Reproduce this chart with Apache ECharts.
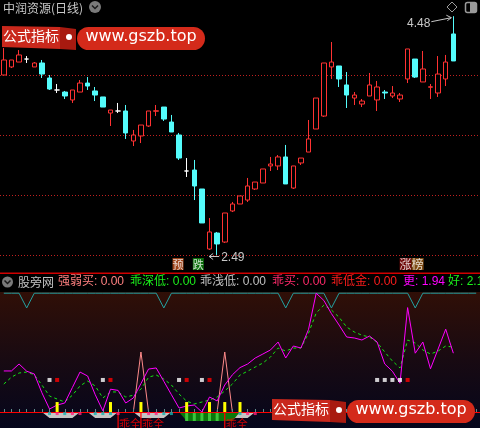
<!DOCTYPE html>
<html><head><meta charset="utf-8">
<script src="https://cdn.jsdelivr.net/npm/echarts@6/dist/echarts.min.js"></script>
<style>html,body{margin:0;padding:0;background:#000;}#c{width:480px;height:428px;}</style>
</head><body><div id="c"></div>
<script>
// ---------- data ----------
const days = Array.from({length: 63}, (_, i) => 'D' + (i + 1));
const opens  = [3.99,4.057,4.098,4.123,4.057,4.09,3.965,3.865,3.848,3.782,3.848,3.923,3.857,3.807,3.673,3.69,3.69,3.44,3.482,3.565,3.688,3.723,3.598,3.49,3.19,3.198,3.04,2.54,2.673,2.598,2.857,2.915,2.948,3.04,3.09,3.232,3.232,3.307,3.048,3.257,3.348,3.54,3.648,4.057,4.065,3.907,3.798,3.748,3.815,3.782,3.848,3.815,3.79,3.957,4.123,3.932,3.888,3.84,3.957,4.332];
const closes = [4.115,4.115,4.157,4.123,4.09,3.998,3.873,3.865,3.815,3.865,3.923,3.898,3.823,3.723,3.698,3.69,3.507,3.49,3.573,3.69,3.692,3.623,3.515,3.298,3.19,3.065,2.757,2.682,2.582,2.84,2.915,2.982,3.065,3.098,3.207,3.248,3.307,3.082,3.232,3.298,3.457,3.798,4.09,4.098,3.957,3.823,3.823,3.773,3.907,3.89,3.84,3.84,3.823,4.207,3.973,4.04,3.892,3.998,4.098,4.107];
const lows   = [3.99,4.048,4.098,4.09,4.057,3.965,3.865,3.84,3.79,3.757,3.848,3.865,3.773,3.723,3.565,3.673,3.457,3.398,3.423,3.557,3.648,3.607,3.515,3.282,3.14,2.948,2.757,2.532,2.49,2.59,2.848,2.915,2.932,3.032,3.09,3.19,3.198,3.082,3.04,3.24,3.348,3.54,3.64,3.957,3.89,3.715,3.74,3.723,3.815,3.69,3.79,3.798,3.765,3.923,3.965,3.932,3.79,3.807,3.898,4.107];
const highs  = [4.215,4.115,4.198,4.148,4.098,4.115,3.99,3.915,3.857,3.865,3.948,3.973,3.89,3.807,3.698,3.757,3.74,3.532,3.573,3.69,3.74,3.723,3.657,3.507,3.298,3.282,3.04,2.798,2.682,2.84,2.932,2.982,3.132,3.098,3.207,3.307,3.323,3.407,3.232,3.298,3.615,3.798,4.09,4.265,4.065,4.015,3.848,3.79,4.007,3.94,3.865,3.898,3.84,4.207,4.123,4.19,3.915,4.148,4.157,4.48];
const priceGrid = [2.49, 2.99, 3.49, 3.99];
const tagIdx = [23, 25, 53];
const tagText = ['预', '跌', '涨榜'];
const tagPrice = 2.415;

// lower indicator
const magenta = [34.2,34.2,40,34,31.7,16,2.5,5.8,7.5,20.4,33.3,30,14.4,1,19,18,7.5,11.7,23.7,35.8,36.7,25.6,14.4,3.3,5,5.8,0,12.5,9.2,22.5,31,37,40,45,48.3,51.7,58.3,45,55,53.3,69,99,93,82,72.5,62.5,61.7,60,63.3,58.3,40,34,24,87,49,58.3,36,52.5,69,49];
const dashed  = [23.3,29,32.5,33.3,31,22.5,13.3,10.8,8.3,14,21.7,25.8,21.7,11.7,16.7,16.7,12.5,14,19,29,30.8,27.5,22.5,15,9,6.7,8.3,10,12.5,17.5,23.3,30.8,34,37.5,40.8,45.8,53.3,50.8,53.3,53.3,65.8,82.5,89,85,79,70.8,66.7,64,62.5,58,50,42.5,36.7,60,57.5,51.7,48.3,50.8,55,54];
const tealTop = [99,99,99,86.7,99,99,99,99,99,99, 99,99,99,99,99,99,99,99,99,99, 99,86.7,99,99,99,99,99,99,99,99, 99,99,99,99,99,99,99,86.7,99,99, 99,99,99,86.7,99,99,99,99,99,99, 99,99,99,99,86.7,99,99,99,99,99, 99,99,99];
const spike = [null,null,null,null,null,null,null,null,null,null, null,null,null,null,null,null,null,0,50,0, null,null,null,null,null,null,null,null,0,50, 0,null,null,null,null,null,null,null,null,null, null,null,null,null,null,null,null,null,null,null, null,null,null,null,null,null,null,null,null,null];
const greyArea = [null,null,null,null,null,0,-5,-5,-5,-5, 0,0,-5,-5,-5,0,0,0,-5,-5, -5,-5,0,0,0,0,0,0,0,0, -5,-5,-5,0,null,null,null,null,null,null, null,null,null,null,null,null,null,null,null,null, null,null,null,null,null,null,null,null,null,null];
const greenArea = [null,null,null,null,null,null,null,null,null,null, null,null,null,null,null,null,null,null,null,null, null,null,null,0,-7.5,-7.5,-7.5,-7.5,-7.5,-7.5, -7.5,0,null,null,null,null,null,null,null,null, null,null,null,null,null,null,null,null,null,null, null,null,null,null,null,null,null,null,null,null];
const yellowIdx = [7, 14, 18, 24, 27, 29, 31];
const yellowVal = [8.3, 8.3, 8.3, 8.3, 8.3, 8.3, 8.3];
const lgIdx = [24, 25, 26, 27, 28];
const lgVal = [-7.5, -7.5, -7.5, -7.5, -7.5];
const guaiIdx = [15, 18, 29];
const guaiVal = [-13.3, -13.3, -13.3];
const guaiText = '乖全';
const whiteIdx = [6, 13, 23, 26, 49, 50, 51, 52];
const redIdx = [7, 14, 24, 27, 53];
const dotLevel = 26.7;
const tealSqIdx = [6, 8, 12, 13, 14, 21, 22, 31];
const pinkSqIdx = [7, 9, 10, 15, 19, 20, 32, 33];
const sqLevel = -1.3;
const headNames = ['强弱买', '乖深低', '乖浅低', '乖买', '乖低金', '更', '好'];
const headVals  = ['0.00', '0.00', '0.00', '0.00', '0.00', '1.94', '2.16'];

// ---------- build ----------
const CJK = "'Noto Sans CJK SC','Liberation Sans',sans-serif";
const LAT = "'Liberation Sans','Noto Sans CJK SC',sans-serif";
const candles = opens.map((o, i) => {
  const v = [o, closes[i], lows[i], highs[i]];
  if (o === closes[i]) return {value: v, itemStyle: {color: '#fff', color0: '#fff', borderColor: '#fff', borderColor0: '#fff', borderColorDoji: '#fff'}};
  return v;
});
const tagStyle = {
  '预': {off: -1, rich: {a: {backgroundColor: '#c4521e', color: '#fff', fontSize: 11, lineHeight: 11, padding: [1, 0, 0, 0], fontFamily: CJK}}},
  '跌': {off: 4, rich: {a: {backgroundColor: '#0e8a0e', color: '#fff', fontSize: 11, lineHeight: 11, padding: [1, 0, 0, 0], fontFamily: CJK}}},
  '涨榜': {off: 4, rich: {a: {backgroundColor: '#8c0c0c', color: '#fff', fontSize: 12, lineHeight: 13, padding: [0, 0, 0, 0], fontFamily: CJK}, b: {backgroundColor: '#9c5c16', color: '#fff', fontSize: 12, lineHeight: 13, padding: [0, 0, 0, 0], fontFamily: CJK}}}
};
const tagData = tagIdx.map((x, i) => {
  const t = tagText[i], st = tagStyle[t];
  const fmt = t.length === 2 ? '{a|' + t[0] + '}{b|' + t[1] + '}' : '{a|' + t + '}';
  return {value: [x, tagPrice], label: {show: true, position: 'inside', offset: [st.off, 0], formatter: fmt, rich: st.rich}};
});
function pairs(idx, vals) { return idx.map((x, i) => [x, Array.isArray(vals) ? vals[i] : vals]); }
function barRender(w, color) {
  return function (params, api) {
    const x = api.value(0), v = api.value(1);
    const p0 = api.coord([x, 0]), p1 = api.coord([x, v]);
    return {type: 'rect', shape: {x: p0[0] - w / 2, y: Math.min(p0[1], p1[1]), width: w, height: Math.abs(p1[1] - p0[1])}, style: {fill: color}};
  };
}
const L = {xAxisIndex: 1, yAxisIndex: 1};

const chart = echarts.init(document.getElementById('c'));
const option = {
  backgroundColor: '#000',
  animation: false,
  grid: [
    {left: 0, top: 15, width: 480, height: 260},
    {left: 0, top: 292, width: 480, height: 136, show: true, borderWidth: 0,
      backgroundColor: {type: 'linear', x: 0, y: 0, x2: 0, y2: 1, colorStops: [{offset: 0, color: '#300f07'}, {offset: 0.5, color: '#180a12'}, {offset: 1, color: '#05061c'}]}}
  ],
  xAxis: [
    {type: 'category', gridIndex: 0, data: days, boundaryGap: true, show: false},
    {type: 'category', gridIndex: 1, data: days, boundaryGap: true, z: 5,
      axisLine: {show: true, onZero: true, lineStyle: {color: '#ff0000', width: 1}},
      axisTick: {show: true, alignWithLabel: true, interval: 0, inside: true, length: 3, lineStyle: {color: '#5f8a8a'}},
      axisLabel: {show: false}, splitLine: {show: false}}
  ],
  yAxis: [
    {type: 'value', gridIndex: 0, min: 2.32333, max: 4.49, show: false},
    {type: 'value', gridIndex: 1, min: -13.3333, max: 100, show: false}
  ],
  series: [
    {type: 'candlestick', xAxisIndex: 0, yAxisIndex: 0, data: candles, barWidth: 5, silent: true,
      itemStyle: {color: '#000', color0: '#54fcfc', borderColor: '#ff3232', borderColor0: '#54fcfc', borderWidth: 1},
      markLine: {silent: true, symbol: ['none', 'none'], label: {show: false}, z: 1,
        lineStyle: {color: '#c02020', type: [1, 2], width: 1},
        data: priceGrid.map(v => ({yAxis: v}))}},
    {type: 'scatter', xAxisIndex: 0, yAxisIndex: 0, symbolSize: 0, data: tagData, silent: true, z: 6},
    // lower panel
    {type: 'line', ...L, data: greyArea, symbol: 'none', lineStyle: {width: 0}, areaStyle: {color: '#c4c4c4', opacity: 1}, z: 1, silent: true},
    {type: 'line', ...L, data: greenArea, symbol: 'none', lineStyle: {width: 0}, areaStyle: {color: '#0a780a', opacity: 1}, z: 1, silent: true},
    {type: 'custom', ...L, data: pairs(lgIdx, lgVal), renderItem: barRender(3, '#3cc43c'), z: 2, silent: true},
    {type: 'line', ...L, data: tealTop, symbol: 'none', lineStyle: {color: '#23a0a0', width: 1}, z: 3, silent: true},
    {type: 'line', ...L, data: spike, symbol: 'none', connectNulls: false, lineStyle: {color: '#ff8a8a', width: 1}, z: 3, silent: true},
    {type: 'line', ...L, data: dashed, symbol: 'none', lineStyle: {color: '#14e614', width: 1, type: [3, 3]}, z: 4, silent: true},
    {type: 'line', ...L, data: magenta, symbol: 'none', lineStyle: {color: '#ff00ff', width: 1}, z: 5, silent: true},
    {type: 'custom', ...L, data: pairs(yellowIdx, yellowVal), renderItem: barRender(3, '#ffff00'), z: 6, silent: true},
    {type: 'custom', ...L, data: pairs(guaiIdx, guaiVal), renderItem: barRender(1.2, '#ff0000'), z: 6, silent: true},
    {type: 'scatter', ...L, data: pairs(whiteIdx, dotLevel), symbol: 'rect', symbolSize: 4, itemStyle: {color: '#ffffff'}, z: 6, silent: true},
    {type: 'scatter', ...L, data: pairs(redIdx, dotLevel), symbol: 'rect', symbolSize: 4, itemStyle: {color: '#ff0000'}, z: 6, silent: true},
    {type: 'scatter', ...L, data: pairs(tealSqIdx, sqLevel), symbol: 'rect', symbolSize: 3, itemStyle: {color: '#12b4b4'}, z: 7, silent: true},
    {type: 'scatter', ...L, data: pairs(pinkSqIdx, sqLevel), symbol: 'rect', symbolSize: 3, itemStyle: {color: '#ff2080'}, z: 7, silent: true},
    {type: 'scatter', ...L, data: pairs(guaiIdx, -10), symbolSize: 0, z: 8, silent: true,
      label: {show: true, position: 'right', distance: 1, formatter: guaiText, color: '#ff0000', fontSize: 11, fontFamily: CJK}}
  ]
};
chart.setOption(option);

// ---------- annotations ----------
function wm(dx, dy) {
  return [
    {type: 'polygon', z: 100, shape: {points: [[2 + dx, 26 + dy], [60 + dx, 27 + dy], [60 + dx, 49 + dy], [2 + dx, 47 + dy]]}, style: {fill: '#c9281c'}},
    {type: 'polygon', z: 100, shape: {points: [[60 + dx, 27 + dy], [76 + dx, 29 + dy], [76 + dx, 50 + dy], [60 + dx, 49 + dy]]}, style: {fill: '#a81a10'}},
    {type: 'text', z: 101, x: 3 + dx, y: 36 + dy, style: {text: '公式指标', fill: '#fff', font: '14px ' + CJK, verticalAlign: 'middle'}},
    {type: 'circle', z: 101, shape: {cx: 69 + dx, cy: 37 + dy, r: 3}, style: {fill: '#fff'}},
    {type: 'rect', z: 100, shape: {x: 77 + dx, y: 27 + dy, width: 128, height: 23, r: 11.5}, style: {fill: '#d42a1a'}},
    {type: 'text', z: 101, x: 141 + dx, y: 37 + dy, style: {text: 'www.gszb.top', fill: '#fff', font: "16px 'DejaVu Sans'", align: 'center', verticalAlign: 'middle'}}
  ];
}
function chevron(cx, cy, r) {
  return [
    {type: 'circle', z: 50, shape: {cx: cx, cy: cy, r: r}, style: {fill: '#7a7a7a'}},
    {type: 'polyline', z: 51, shape: {points: [[cx - 3, cy - 1.5], [cx, cy + 1.5], [cx + 3, cy - 1.5]]}, style: {stroke: '#1a1a1a', lineWidth: 1.5, fill: null}}
  ];
}
const g = [];
g.push({type: 'text', z: 50, x: 3, y: 8, style: {text: '中润资源(日线)', fill: '#c8c8c8', font: '12px ' + CJK, verticalAlign: 'middle'}});
g.push(...chevron(95, 7, 6));
g.push({type: 'polygon', z: 50, shape: {points: [[452, 2], [457, 7], [452, 12], [447, 7]]}, style: {stroke: '#9a9a9a', fill: null, lineWidth: 1}});
g.push({type: 'rect', z: 50, shape: {x: 465.5, y: 2.5, width: 11, height: 10, r: 2}, style: {stroke: '#9a9a9a', fill: null, lineWidth: 1.5}});
g.push({type: 'rect', z: 50, shape: {x: 470, y: 3, width: 6, height: 9}, style: {fill: '#9a9a9a'}});
g.push({type: 'rect', z: 50, shape: {x: 0, y: 272.5, width: 480, height: 1.5}, style: {fill: '#d00000'}});
g.push(...chevron(7.5, 282, 5.5));
g.push({type: 'text', z: 50, x: 18, y: 282, style: {text: '股旁网', fill: '#c0c0c0', font: '12px ' + CJK, verticalAlign: 'middle'}});
const headX = [58, 130, 200, 272, 331, 403, 448];
const headC = ['#ff8080', '#1cf01c', '#c0c0c0', '#ff2a6a', '#ff1c1c', '#ff00ff', '#1cf01c'];
headNames.forEach((n, i) => {
  g.push({type: 'text', z: 50, x: headX[i], y: 282, style: {text: n + ': ' + headVals[i], fill: headC[i], font: '12px ' + LAT, verticalAlign: 'middle'}});
});
// high / low markers
const hiIdx = highs.indexOf(Math.max(...highs));
const loIdx = lows.indexOf(Math.min(...lows));
const hp = chart.convertToPixel({xAxisIndex: 0, yAxisIndex: 0}, [hiIdx, highs[hiIdx]]);
const lp = chart.convertToPixel({xAxisIndex: 0, yAxisIndex: 0}, [loIdx, lows[loIdx]]);
const ax = hp[0] - 2, ay = hp[1] + 1.5;
g.push({type: 'polyline', z: 60, shape: {points: [[hp[0] - 22, hp[1] + 5.5], [ax, ay]]}, style: {stroke: '#c8c8c8', lineWidth: 1, fill: null}});
g.push({type: 'polyline', z: 60, shape: {points: [[ax - 5, ay - 2.5], [ax, ay], [ax - 4, ay + 3]]}, style: {stroke: '#c8c8c8', lineWidth: 1, fill: null}});
g.push({type: 'text', z: 60, x: hp[0] - 23, y: hp[1] + 7.5, style: {text: highs[hiIdx].toFixed(2), fill: '#c8c8c8', font: '12px ' + LAT, align: 'right', verticalAlign: 'middle'}});
const bx = lp[0] - 8, by = lp[1] + 1.5;
g.push({type: 'polyline', z: 60, shape: {points: [[bx, by], [lp[0] + 2, by]]}, style: {stroke: '#c8c8c8', lineWidth: 1, fill: null}});
g.push({type: 'polyline', z: 60, shape: {points: [[bx + 4, by - 3], [bx, by], [bx + 4, by + 3]]}, style: {stroke: '#c8c8c8', lineWidth: 1, fill: null}});
g.push({type: 'text', z: 60, x: lp[0] + 4, y: lp[1] + 2.5, style: {text: lows[loIdx].toFixed(2), fill: '#c8c8c8', font: '12px ' + LAT, verticalAlign: 'middle'}});
g.push(...wm(0, 0));
g.push(...wm(270, 373));
chart.setOption({graphic: g});
</script>
</body></html>
